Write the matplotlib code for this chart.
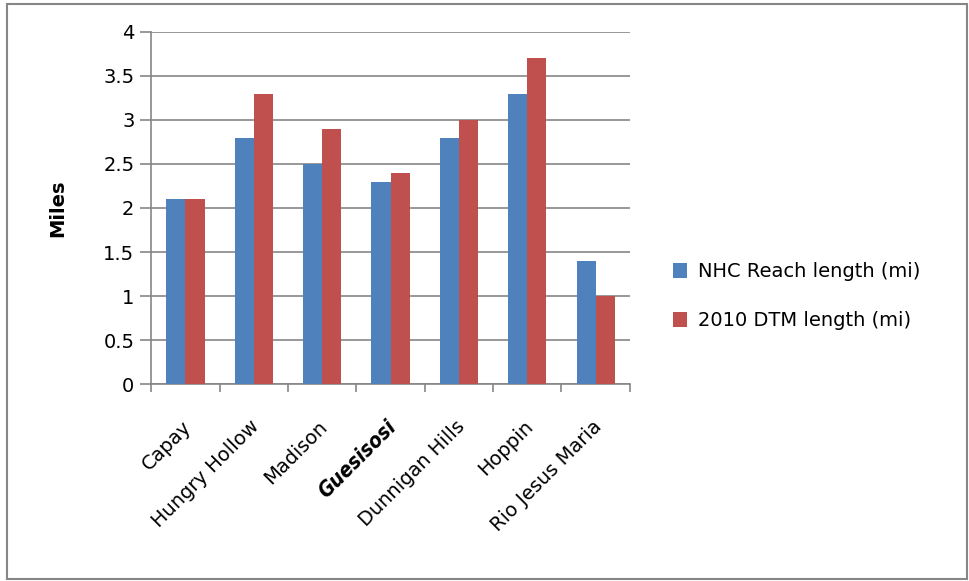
import numpy as np
import matplotlib
matplotlib.use("Agg")
import matplotlib.pyplot as plt
from matplotlib.patches import Rectangle
from matplotlib.transforms import ScaledTranslation

plt.rcParams['font.family'] = ['DejaVu Sans']

sites = ['Capay', 'Hungry Hollow', 'Madison', 'Guesisosi', 'Dunnigan Hills', 'Hoppin', 'Rio Jesus Maria']
nhc = [2.1, 2.8, 2.5, 2.3, 2.8, 3.3, 1.4]
dtm = [2.1, 3.3, 2.9, 2.4, 3.0, 3.7, 1.0]
yticks = [0, 0.5, 1, 1.5, 2, 2.5, 3, 3.5, 4]
yticklabels = ['0', '0.5', '1', '1.5', '2', '2.5', '3', '3.5', '4']

fig = plt.figure(figsize=(9.69, 5.81), dpi=100)
ax = fig.add_axes([0.156, 0.339, 0.494, 0.606])

x = np.arange(len(sites))
w = 0.28
ax.bar(x - w / 2, nhc, w, color='#4F81BD', label='NHC Reach length (mi)', zorder=3)
ax.bar(x + w / 2, dtm, w, color='#C0504D', label='2010 DTM length (mi)', zorder=3)

ax.set_xlim(-0.5, len(sites) - 0.5)
ax.set_ylim(0, 4)
ax.set_yticks(yticks)
ax.set_yticklabels(yticklabels, fontsize=14)
ax.yaxis.grid(True, color='#868686', linewidth=1.2, zorder=0)

# category boundary ticks on x axis
ax.set_xticks(np.arange(-0.5, len(sites), 1.0))
ax.set_xticklabels([])
ax.tick_params(axis='x', length=6, color='#868686', width=1.2)
ax.tick_params(axis='y', length=8, color='#868686', width=1.2, pad=4)

off = ScaledTranslation(-4 / 100, -33 / 100, fig.dpi_scale_trans)
for i, s in enumerate(sites):
    if s == 'Guesisosi':
        ax.text(i, 0, s, rotation=45, ha='right', va='top', fontsize=15,
                fontweight='heavy', fontstyle='italic', fontstretch='condensed',
                transform=ax.get_xaxis_transform() + off, rotation_mode='anchor')
    else:
        ax.text(i, 0, s, rotation=45, ha='right', va='top', fontsize=14,
                transform=ax.get_xaxis_transform() + off, rotation_mode='anchor')

for side in ['top', 'right']:
    ax.spines[side].set_visible(False)
for side in ['left', 'bottom']:
    ax.spines[side].set_color('#868686')
    ax.spines[side].set_linewidth(1.2)

ax.set_ylabel('Miles', fontsize=14, fontweight='bold', labelpad=26)

fig.legend(loc='center left', bbox_to_anchor=(0.676, 0.49), frameon=False, fontsize=14,
           handlelength=0.75, handleheight=0.75, labelspacing=1.55, handletextpad=0.55)

fig.patches.append(Rectangle((0.0072, 0.0034), 0.991, 0.99, transform=fig.transFigure,
                             fill=False, edgecolor='#868686', linewidth=1.5))

fig.savefig('out.png', dpi=100)
